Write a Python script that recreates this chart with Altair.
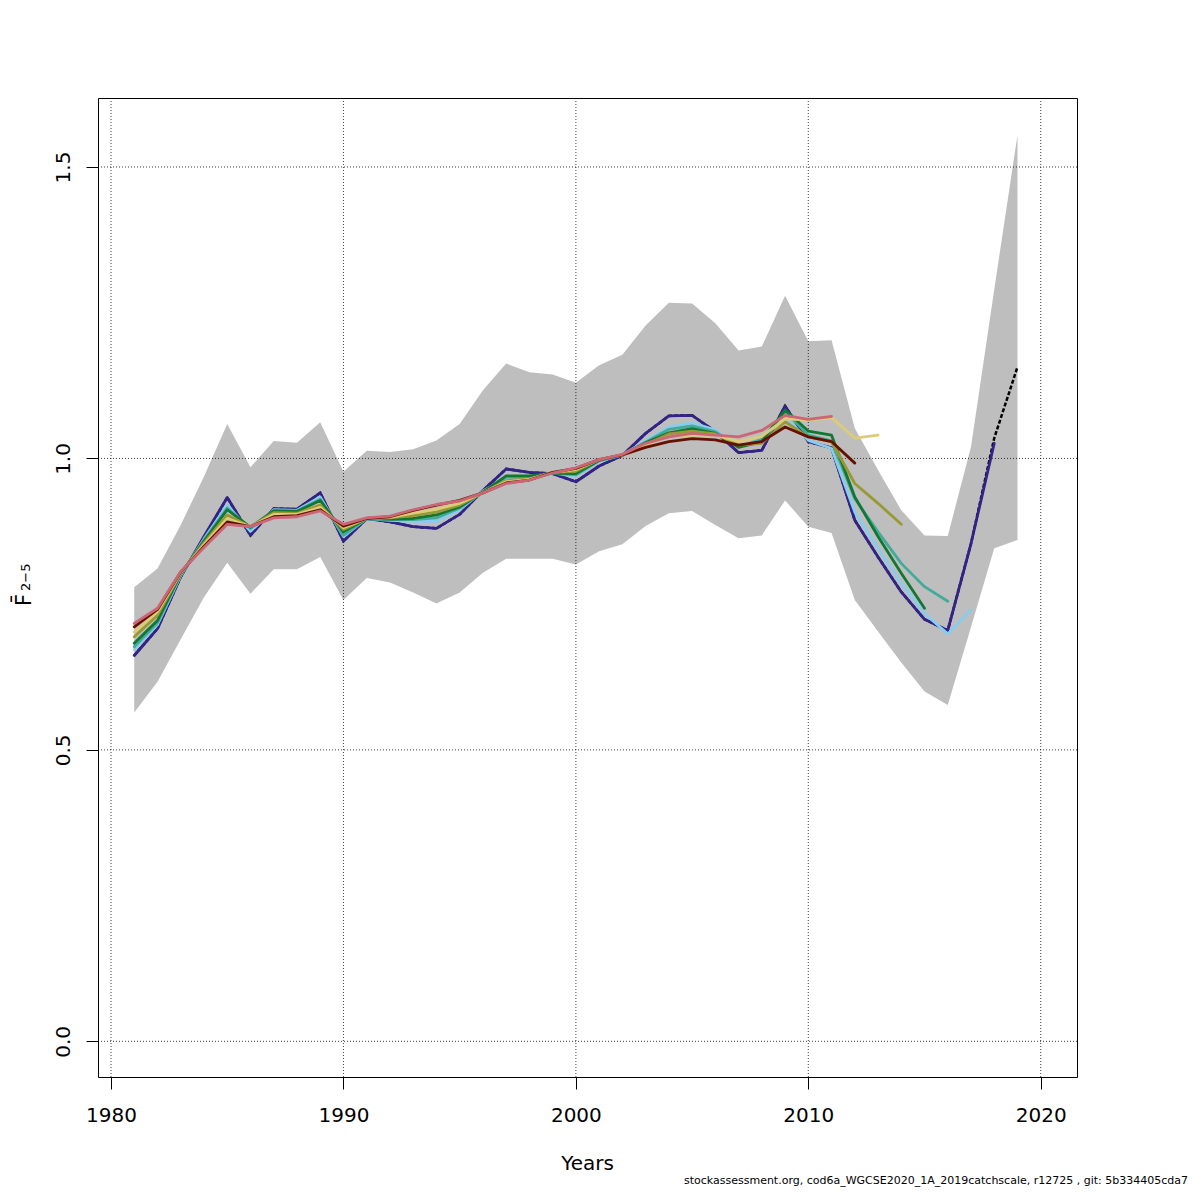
import altair as alt
import pandas as pd

years = list(range(1981, 2020))

band_lower = [0.564, 0.617, 0.690, 0.762, 0.821, 0.768, 0.810, 0.810, 0.831, 0.757,
              0.795, 0.787, 0.770, 0.751, 0.770, 0.804, 0.828, 0.828, 0.828, 0.818,
              0.841, 0.853, 0.884, 0.906, 0.910, 0.886, 0.863, 0.868, 0.928, 0.883,
              0.872, 0.757, 0.703, 0.650, 0.600, 0.577, 0.711, 0.846, 0.860]
band_upper = [0.779, 0.811, 0.886, 0.969, 1.059, 0.985, 1.030, 1.027, 1.062, 0.977,
              1.013, 1.011, 1.016, 1.031, 1.059, 1.117, 1.163, 1.148, 1.144, 1.130,
              1.160, 1.178, 1.228, 1.267, 1.266, 1.232, 1.185, 1.192, 1.279, 1.201,
              1.203, 1.052, 0.980, 0.911, 0.868, 0.867, 1.020, 1.290, 1.555]

full_run = [0.662, 0.708, 0.797, 0.865, 0.933, 0.868, 0.914, 0.913, 0.941, 0.858,
            0.897, 0.891, 0.883, 0.880, 0.904, 0.945, 0.982, 0.976, 0.974, 0.960,
            0.987, 1.005, 1.043, 1.073, 1.074, 1.046, 1.010, 1.014, 1.090, 1.029,
            1.018, 0.894, 0.831, 0.771, 0.724, 0.705, 0.854, 1.035, 1.157]

peel_2018 = [0.662, 0.708, 0.797, 0.866, 0.933, 0.868, 0.914, 0.913, 0.941, 0.858,
             0.897, 0.891, 0.883, 0.880, 0.904, 0.945, 0.982, 0.976, 0.974, 0.960,
             0.987, 1.005, 1.043, 1.073, 1.074, 1.046, 1.010, 1.014, 1.090, 1.029,
             1.018, 0.894, 0.831, 0.771, 0.724, 0.705, 0.854, 1.026]
peel_2017 = [0.672, 0.715, 0.799, 0.862, 0.920, 0.875, 0.912, 0.911, 0.934, 0.866,
             0.897, 0.894, 0.892, 0.892, 0.912, 0.944, 0.966, 0.968, 0.975, 0.970,
             0.995, 1.006, 1.030, 1.054, 1.061, 1.049, 1.020, 1.033, 1.072, 1.031,
             1.017, 0.908, 0.846, 0.786, 0.734, 0.699, 0.740]
peel_2016 = [0.677, 0.718, 0.801, 0.860, 0.915, 0.880, 0.911, 0.910, 0.930, 0.868,
             0.897, 0.895, 0.895, 0.898, 0.915, 0.943, 0.968, 0.968, 0.975, 0.972,
             0.996, 1.006, 1.028, 1.050, 1.056, 1.046, 1.020, 1.033, 1.080, 1.040,
             1.030, 0.931, 0.874, 0.820, 0.780, 0.755]
peel_2015 = [0.683, 0.722, 0.802, 0.858, 0.912, 0.882, 0.910, 0.909, 0.928, 0.874,
             0.897, 0.896, 0.897, 0.903, 0.917, 0.942, 0.970, 0.970, 0.975, 0.974,
             0.997, 1.006, 1.027, 1.044, 1.051, 1.043, 1.019, 1.029, 1.083, 1.047,
             1.040, 0.934, 0.866, 0.803, 0.743]
peel_2014 = [0.694, 0.731, 0.803, 0.855, 0.903, 0.883, 0.907, 0.906, 0.920, 0.878,
             0.897, 0.898, 0.902, 0.908, 0.920, 0.941, 0.962, 0.965, 0.976, 0.978,
             0.998, 1.006, 1.024, 1.042, 1.047, 1.042, 1.023, 1.026, 1.063, 1.037,
             1.029, 0.957, 0.923, 0.887]
peel_2013 = [0.702, 0.737, 0.804, 0.852, 0.897, 0.883, 0.904, 0.904, 0.916, 0.881,
             0.897, 0.899, 0.906, 0.913, 0.923, 0.941, 0.960, 0.964, 0.976, 0.981,
             0.998, 1.006, 1.024, 1.037, 1.040, 1.040, 1.029, 1.038, 1.068, 1.066,
             1.070, 1.035, 1.040]
peel_2012 = [0.711, 0.741, 0.805, 0.849, 0.891, 0.883, 0.900, 0.902, 0.912, 0.884,
             0.897, 0.900, 0.911, 0.920, 0.928, 0.941, 0.958, 0.963, 0.976, 0.983,
             0.998, 1.006, 1.019, 1.029, 1.034, 1.032, 1.023, 1.029, 1.054, 1.037,
             1.029, 0.992]
peel_2011 = [0.717, 0.743, 0.806, 0.847, 0.887, 0.883, 0.898, 0.900, 0.910, 0.887,
             0.898, 0.901, 0.912, 0.921, 0.927, 0.941, 0.957, 0.963, 0.975, 0.984,
             0.998, 1.007, 1.026, 1.037, 1.043, 1.040, 1.037, 1.048, 1.074, 1.067,
             1.072]

runs = [
    ("full", full_run, "#000000"),
    ("2018", peel_2018, "#332288"),
    ("2017", peel_2017, "#88CCEE"),
    ("2016", peel_2016, "#44AA99"),
    ("2015", peel_2015, "#117733"),
    ("2014", peel_2014, "#999933"),
    ("2013", peel_2013, "#DDCC77"),
    ("2012", peel_2012, "#661100"),
    ("2011", peel_2011, "#CC6677"),
]

x_ticks = [1980, 1990, 2000, 2010, 2020]
y_ticks = [0.0, 0.5, 1.0, 1.5]
footnote = "stockassessment.org, cod6a_WGCSE2020_1A_2019catchscale, r12725 , git: 5b334405cda7"

W = 979
H = 979

xscale = alt.Scale(domain=[1979.44, 2021.56], nice=False, zero=False)
yscale = alt.Scale(domain=[-0.0612, 1.6184], nice=False, zero=False)

xaxis = alt.Axis(values=x_ticks, format="d", title=None, grid=False, domain=False,
                 ticks=True, tickSize=12, tickColor="black", tickWidth=1,
                 labelFontSize=20, labelFont="DejaVu Sans", labelColor="black",
                 labelPadding=16, labelBaseline="top", labelFlush=False)
yaxis = alt.Axis(values=y_ticks, format=".1f", title=None, grid=False, domain=False,
                 ticks=True, tickSize=12, tickColor="black", tickWidth=1,
                 labelFontSize=20, labelFont="DejaVu Sans", labelColor="black",
                 labelAngle=270, labelAlign="center", labelBaseline="alphabetic",
                 labelPadding=17, labelFlush=False)

X = alt.X("year:Q", scale=xscale, axis=xaxis)
Y = alt.Y("F:Q", scale=yscale, axis=yaxis)

band_df = pd.DataFrame({"year": years, "lo": band_lower, "hi": band_upper})
band = alt.Chart(band_df).mark_area(color="#BEBEBE", opacity=1).encode(
    x=X, y=alt.Y("lo:Q", scale=yscale, axis=yaxis), y2="hi:Q")

vgrid = alt.Chart(pd.DataFrame({"year": x_ticks})).mark_rule(
    color="black", strokeWidth=1, strokeDash=[1, 2], opacity=0.75).encode(x=X)
hgrid = alt.Chart(pd.DataFrame({"F": y_ticks})).mark_rule(
    color="black", strokeWidth=1, strokeDash=[1, 2], opacity=0.75).encode(y=Y)

layers = [band, vgrid, hgrid]
for name, vals, col in runs:
    df = pd.DataFrame({"year": years[:len(vals)], "F": vals})
    if name == "full":
        mk = alt.Chart(df).mark_line(color=col, strokeWidth=2.5, strokeDash=[4, 2])
    else:
        mk = alt.Chart(df).mark_line(color=col, strokeWidth=2.8, strokeCap="round",
                                     strokeJoin="round")
    layers.append(mk.encode(x=X, y=Y))

txt = pd.DataFrame({"t": ["Years"]})
xtitle = alt.Chart(txt).mark_text(font="DejaVu Sans", fontSize=20, color="black",
                                  align="center", baseline="alphabetic").encode(
    text="t:N", x=alt.value(W / 2), y=alt.value(1072))

ft = alt.Chart(pd.DataFrame({"t": ["F"]})).mark_text(
    font="DejaVu Sans", fontSize=21, color="black", angle=270,
    align="left", baseline="alphabetic").encode(
    text="t:N", x=alt.value(-67), y=alt.value(508))
fbar = alt.Chart(pd.DataFrame({"t": ["\u00af"]})).mark_text(
    font="DejaVu Sans", fontSize=21, color="black", angle=270,
    align="center", baseline="top").encode(
    text="t:N", x=alt.value(-89), y=alt.value(501))
fsub = alt.Chart(pd.DataFrame({"t": ["2\u22125"]})).mark_text(
    font="DejaVu Sans", fontSize=13, color="black", angle=270,
    align="left", baseline="alphabetic").encode(
    text="t:N", x=alt.value(-68), y=alt.value(493))

foot = alt.Chart(pd.DataFrame({"t": [footnote]})).mark_text(
    font="DejaVu Sans", fontSize=11, color="black", align="right",
    baseline="alphabetic").encode(
    text="t:N", x=alt.value(1090), y=alt.value(1086))

layers += [xtitle, ft, fbar, fsub, foot]

chart = alt.layer(*layers).properties(
    width=W, height=H,
    autosize=alt.AutoSizeParams(type="none"),
    padding={"left": 90, "top": 90, "right": 112, "bottom": 110},
    background="white",
).configure_view(stroke="black", strokeWidth=1)

chart.save("out.html", embed_options={"renderer": "svg", "actions": False})
